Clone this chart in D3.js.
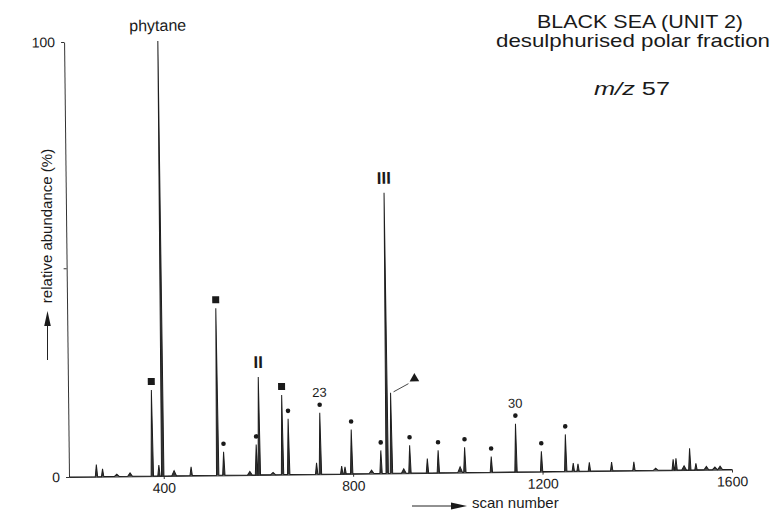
<!DOCTYPE html>
<html>
<head>
<meta charset="utf-8">
<script src="https://cdn.jsdelivr.net/npm/d3@7"></script>
<style>
  body { margin: 0; background: #fff; }
  text { font-family: "Liberation Sans", Arial, sans-serif; fill: #1a1a1a; }
</style>
</head>
<body>
<div id="graph"></div>
<script>
// peaks (scan number, relative abundance %)
const peakScans = [258, 271, 301, 329, 376, 390, 398, 422, 458, 514,
    527, 582, 596, 602, 631, 651, 664, 723, 731, 776,
    783, 797, 839, 859, 872, 881, 907, 920, 957, 980,
    1026, 1036, 1092, 1144, 1198, 1249, 1265, 1275, 1299, 1346,
    1393, 1439, 1476, 1482, 1499, 1511, 1524, 1546, 1564, 1575];
const peakHeights = [2.8, 1.8, 0.5, 0.8, 19.8, 2.5, 100, 1.2, 2.0, 38.4,
    5.4, 0.8, 7.0, 22.5, 0.5, 18.3, 12.8, 2.6, 14.1, 1.8,
    1.6, 10.2, 0.8, 5.3, 64.5, 18.5, 1.0, 6.4, 3.3, 5.2,
    1.3, 5.8, 3.6, 11.1, 4.7, 8.5, 1.9, 1.7, 2.0, 2.0,
    2.0, 0.5, 2.5, 2.7, 1.0, 5.0, 1.5, 0.8, 0.6, 0.8];

// marked peaks
const squarePeaks = [376, 514, 651];
const dotPeaks = [527, 596, 664, 731, 797, 859, 920, 980, 1036, 1092, 1144, 1198, 1249];
const trianglePeaks = [881];
const labelPeaks = [398, 602, 872, 731, 1144];
const labelTexts = ['phytane', 'II', 'III', '23', '30'];

// axes
const scanDomain = [200, 1600];
const xTicks = [400, 800, 1200, 1600];
const yTicks = [0, 48, 100];
const yTickLabels = ['0', '', '100'];

const width = 774, height = 512;
const svg = d3.select('#graph').append('svg')
    .attr('width', width)
    .attr('height', height);

let x = d3.scaleLinear().domain(scanDomain).range([69, 732]);
let y = d3.scaleLinear().domain([0, 100]).range([477, 42]);

const heightAt = s => peakHeights[peakScans.indexOf(s)];

// the scanned figure sits a little askew
let plot = svg.append('g').attr('transform', 'rotate(-0.65, 69, 477)');

// y axis
plot.append('g')
    .attr('transform', 'translate(' + x(scanDomain[0]) + ',0)')
    .call(d3.axisLeft(y).tickValues(yTicks).tickSize(3).tickSizeOuter(0).tickPadding(6)
        .tickFormat((d, i) => yTickLabels[i]))
    .call(g => g.select('.domain').attr('stroke', '#333'))
    .call(g => g.selectAll('line').attr('stroke', '#333'))
    .call(g => g.selectAll('text').style('font-size', '14px')
        .style('font-family', '"Liberation Sans", Arial, sans-serif').attr('fill', '#1a1a1a'));

// x axis
plot.append('g')
    .attr('transform', 'translate(0,' + y(0) + ')')
    .call(d3.axisBottom(x).tickValues(xTicks).tickSize(3).tickSizeOuter(0).tickPadding(4)
        .tickFormat(d3.format('d')))
    .call(g => g.select('.domain').attr('stroke', '#333'))
    .call(g => g.selectAll('line').attr('stroke', '#333'))
    .call(g => g.selectAll('text').style('font-size', '14px')
        .style('font-family', '"Liberation Sans", Arial, sans-serif').attr('fill', '#1a1a1a'));

// trace: baseline with narrow spikes
let pts = [[scanDomain[0], 0]];
peakScans.forEach((s, i) => {
    let h = peakHeights[i];
    let w = h < 1.5 ? 5 : 2.5;
    pts.push([s - w, 0], [s, h], [s + w, 0]);
});
pts.push([scanDomain[1], 0]);

plot.append('path')
    .datum(pts)
    .attr('fill', '#333')
    .attr('stroke', '#1e1e1e')
    .attr('stroke-width', 1)
    .attr('stroke-linejoin', 'miter')
    .attr('d', d3.line().x(d => x(d[0])).y(d => y(d[1])));

// markers
plot.append('g').selectAll('rect')
    .data(squarePeaks)
    .join('rect')
    .attr('x', d => x(d) - 3.5)
    .attr('y', d => y(heightAt(d)) - 12)
    .attr('width', 7)
    .attr('height', 7)
    .attr('fill', '#1a1a1a');

plot.append('g').selectAll('circle')
    .data(dotPeaks)
    .join('circle')
    .attr('cx', d => x(d))
    .attr('cy', d => y(heightAt(d)) - 8)
    .attr('r', 2.3)
    .attr('fill', '#1a1a1a');

trianglePeaks.forEach(s => {
    let px = x(s), py = y(heightAt(s));
    plot.append('line')
        .attr('x1', px + 3).attr('y1', py - 1)
        .attr('x2', px + 18).attr('y2', py - 9)
        .attr('stroke', '#333').attr('stroke-width', 0.9);
    plot.append('path')
        .attr('d', d3.symbol().type(d3.symbolTriangle).size(40))
        .attr('transform', 'translate(' + (px + 24) + ',' + (py - 14) + ')')
        .attr('fill', '#1a1a1a');
});

// peak labels
labelPeaks.forEach((s, i) => {
    let t = labelTexts[i];
    let roman = t === 'II' || t === 'III';
    let numeric = t === '23' || t === '30';
    let gap = roman ? 9 : (numeric ? 16 : 10);
    plot.append('text')
        .attr('x', x(s))
        .attr('y', y(heightAt(s)) - gap)
        .attr('text-anchor', 'middle')
        .style('font-size', roman ? '17px' : (numeric ? '13px' : '16px'))
        .style('font-weight', roman ? 'bold' : 'normal')
        .text(t);
});

// axis titles with arrows
svg.append('text')
    .attr('transform', 'translate(47,226) rotate(-90)')
    .attr('text-anchor', 'middle')
    .attr('dy', '0.35em')
    .style('font-size', '15px')
    .text('relative abundance (%)');
svg.append('line')
    .attr('x1', 47.5).attr('y1', 360).attr('x2', 47.5).attr('y2', 322)
    .attr('stroke', '#222').attr('stroke-width', 1);
svg.append('path')
    .attr('d', 'M47.5,311 L44.2,326 L50.8,326 Z')
    .attr('fill', '#1a1a1a');

svg.append('text')
    .attr('x', 472)
    .attr('y', 508)
    .style('font-size', '15px')
    .text('scan number');
svg.append('line')
    .attr('x1', 412).attr('y1', 506).attr('x2', 455).attr('y2', 506)
    .attr('stroke', '#222').attr('stroke-width', 1);
svg.append('path')
    .attr('d', 'M467,506 L451,502.5 L451,509.5 Z')
    .attr('fill', '#1a1a1a');

// title block
svg.append('text')
    .attr('x', 640).attr('y', 28)
    .attr('text-anchor', 'middle')
    .attr('textLength', 206).attr('lengthAdjust', 'spacingAndGlyphs')
    .style('font-size', '18.5px')
    .text('BLACK SEA (UNIT 2)');
svg.append('text')
    .attr('x', 633).attr('y', 47)
    .attr('text-anchor', 'middle')
    .attr('textLength', 274).attr('lengthAdjust', 'spacingAndGlyphs')
    .style('font-size', '18.5px')
    .text('desulphurised polar fraction');
let mz = svg.append('text')
    .attr('x', 632).attr('y', 95)
    .attr('text-anchor', 'middle')
    .attr('textLength', 76).attr('lengthAdjust', 'spacingAndGlyphs')
    .style('font-size', '18.5px');
mz.append('tspan').style('font-style', 'italic').text('m/z');
mz.append('tspan').text('\u00a057');
</script>
</body>
</html>
